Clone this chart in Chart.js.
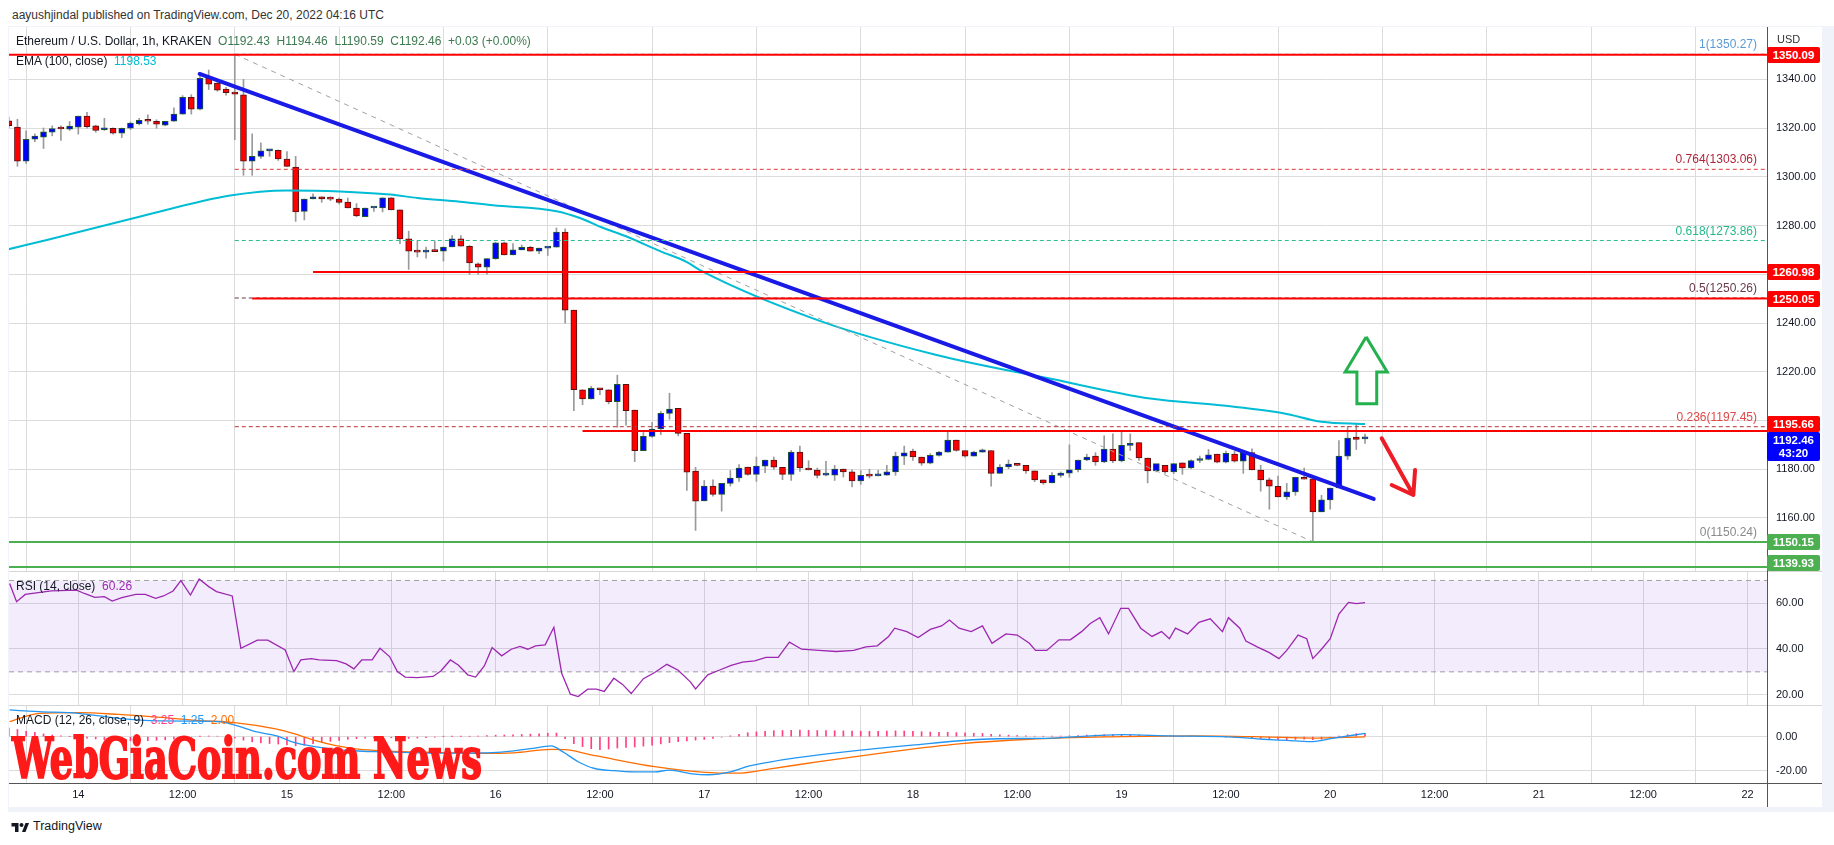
<!DOCTYPE html>
<html lang="en">
<head>
<meta charset="utf-8">
<title>Ethereum / U.S. Dollar, 1h, KRAKEN</title>
<script src="https://cdn.jsdelivr.net/npm/chart.js"></script>
<style>
  html, body { margin:0; padding:0; background:#fff; }
  body { position:relative; width:1834px; height:845px; overflow:hidden; font-family:'Liberation Sans', Arial, sans-serif; color:#131722; }
  .abs { position:absolute; white-space:nowrap; }
  canvas { position:absolute; }
  .legend { position:absolute; white-space:nowrap; font-size:12px; line-height:14px; color:#131722; }
  .pbox { position:absolute; left:1767px; width:53px; color:#fff; font-weight:bold; font-size:11.5px; line-height:16px; height:16px; text-align:center; border-radius:2px; }
  .fib { position:absolute; white-space:nowrap; font-size:12px; line-height:14px; }
</style>
</head>
<body>
<div class="abs" style="left:8px;top:26px;width:1826px;height:786px;background:#f0f3fa;"></div>
<div class="abs" style="left:9px;top:27px;width:1813px;height:780px;background:#fff;"></div>
<div class="abs" style="left:12px;top:7px;font-size:12px;line-height:16px;color:#333;">aayushjindal published on TradingView.com, Dec 20, 2022 04:16 UTC</div>

<canvas id="cMain" width="1813" height="545" style="left:9px;top:27px;"></canvas>
<canvas id="cRsi" width="1813" height="133" style="left:9px;top:572px;"></canvas>
<canvas id="cMacd" width="1813" height="102" style="left:9px;top:705px;"></canvas>

<div class="abs" style="left:9px;top:571px;width:1813px;height:1px;background:#d6d6d6;"></div>
<div class="abs" style="left:9px;top:705px;width:1813px;height:1px;background:#d6d6d6;"></div>
<div class="abs" style="left:9px;top:783px;width:1813px;height:1px;background:#555;"></div>
<div class="abs" style="left:1767px;top:27px;width:1px;height:780px;background:#555;"></div>

<div class="abs" style="left:1777px;top:33px;font-size:11px;color:#333;">USD</div>

<div class="abs" style="left:11px;top:820px;">
  <svg width="19" height="13" viewBox="0 0 36 26"><path d="M14 22H7V11H0V4h14v18z" fill="#131722"/><circle cx="20" cy="8" r="4" fill="#131722"/><path d="M28 22h-7l7-18h7l-7 18z" fill="#131722"/></svg>
</div>
<div class="abs" style="left:33px;top:819px;font-size:12.5px;line-height:15px;color:#131722;">TradingView</div>

<script>
// ---------------- DATA ----------------
// Hours are counted from Dec 14 00:00 UTC; first candle = Dec 13 16:00, one candle per hour.
const firstHour = -8;
const opens = [
  1323.0,1320.4,1306.4,1315.4,1316.3,1318.3,1319.8,1319.5,1320.4,1324.9,
  1320.9,1319.3,1319.9,1317.9,1319.9,1321.7,1323.2,1322.8,1321.2,1322.8,
  1325.7,1332.6,1327.7,1340.4,1338.4,1336.0,1334.8,1333.6,1306.4,1308.4,
  1310.6,1310.9,1307.3,1304.0,1285.8,1290.9,1291.8,1291.0,1290.8,1289.6,
  1287.2,1283.6,1287.2,1287.2,1291.4,1286.4,1274.5,1269.5,1269.1,1269.5,
  1269.5,1271.2,1274.5,1271.5,1264.3,1262.9,1266.4,1272.9,1267.9,1270.0,
  1271.1,1269.5,1270.7,1271.1,1277.3,1245.3,1212.6,1208.8,1213.2,1212.6,
  1207.7,1214.8,1204.3,1187.6,1193.5,1196.5,1202.9,1205.0,1194.7,1179.2,
  1167.0,1173.1,1169.7,1174.2,1176.4,1180.9,1177.9,1181.3,1183.8,1180.8,
  1177.9,1187.0,1180.5,1179.7,1177.6,1177.6,1180.1,1178.9,1175.2,1177.5,
  1177.3,1177.6,1178.9,1185.4,1187.4,1185.0,1182.5,1185.7,1187.0,1192.0,
  1187.7,1185.4,1187.0,1187.7,1178.3,1180.9,1182.1,1181.6,1179.3,1175.6,
  1174.4,1177.5,1178.4,1179.8,1183.8,1185.4,1183.0,1188.3,1183.4,1189.8,
  1190.9,1184.6,1179.3,1181.6,1178.9,1182.6,1180.5,1183.6,1184.0,1186.2,
  1182.9,1186.2,1183.3,1186.8,1179.7,1175.6,1173.0,1168.6,1170.7,1176.7,
  1176.1,1162.5,1167.4,1172.3,1185.4,1193.2,1192.43
];
const highs = [
  1324.5,1323.6,1318.9,1317.6,1320.0,1320.9,1320.9,1322.7,1324.9,1326.4,
  1321.2,1324.0,1320.1,1320.0,1322.5,1324.0,1325.4,1323.4,1322.8,1328.3,
  1333.3,1333.7,1342.2,1343.8,1338.6,1336.7,1350.27,1340.0,1317.6,1313.9,
  1311.0,1311.0,1310.3,1308.4,1290.9,1293.0,1291.8,1291.8,1291.3,1291.3,
  1289.0,1287.2,1287.5,1291.4,1291.4,1286.4,1277.7,1273.6,1271.2,1273.6,
  1271.2,1275.9,1275.9,1271.8,1264.7,1266.4,1273.2,1273.2,1272.6,1272.0,
  1271.5,1270.7,1271.1,1279.0,1278.6,1245.3,1212.6,1214.0,1213.2,1212.6,
  1218.6,1214.8,1204.3,1195.1,1199.2,1203.7,1211.2,1205.0,1194.7,1180.8,
  1175.4,1175.7,1174.2,1179.5,1181.9,1180.9,1185.0,1183.8,1185.0,1180.8,
  1187.7,1189.5,1183.5,1180.5,1183.2,1181.6,1180.1,1179.8,1179.5,1180.0,
  1179.5,1181.6,1187.0,1189.5,1188.3,1185.0,1186.4,1187.3,1195.2,1192.0,
  1187.7,1187.4,1188.3,1187.7,1181.9,1183.8,1182.1,1181.6,1179.3,1175.6,
  1178.6,1178.9,1190.0,1183.8,1186.2,1186.8,1193.7,1194.5,1195.2,1194.5,
  1190.9,1184.6,1181.4,1181.6,1182.3,1182.6,1183.9,1185.4,1188.1,1186.2,
  1187.4,1187.4,1187.7,1188.4,1181.6,1176.4,1177.2,1174.2,1176.7,1180.5,
  1176.1,1169.3,1172.3,1191.8,1197.6,1198.9,1194.46
];
const lows = [
  1320.0,1304.3,1305.5,1314.4,1311.6,1316.8,1314.9,1319.0,1317.5,1319.9,
  1318.3,1319.0,1317.5,1316.1,1319.4,1321.3,1321.6,1319.9,1320.9,1322.7,
  1325.7,1325.7,1327.4,1335.8,1335.1,1333.5,1315.2,1300.6,1300.6,1307.5,
  1308.4,1306.7,1304.3,1281.7,1282.3,1290.9,1289.5,1290.2,1288.9,1287.2,
  1283.6,1283.6,1285.8,1285.6,1286.4,1272.6,1262.0,1267.1,1266.6,1269.3,
  1265.4,1271.2,1271.5,1259.9,1260.0,1260.0,1266.1,1267.9,1267.9,1270.0,
  1269.5,1268.4,1267.7,1271.1,1239.9,1204.0,1206.5,1208.8,1210.6,1206.8,
  1197.2,1198.1,1183.1,1187.6,1193.1,1194.2,1200.5,1193.7,1171.3,1154.9,
  1167.0,1168.9,1162.8,1173.1,1175.0,1177.5,1175.0,1178.6,1179.9,1175.7,
  1175.4,1179.1,1179.7,1176.4,1177.3,1175.4,1176.8,1172.7,1173.8,1176.4,
  1177.3,1177.6,1177.5,1181.9,1183.6,1181.6,1182.2,1185.4,1187.0,1187.4,
  1184.9,1185.4,1187.0,1173.0,1178.3,1180.2,1181.4,1178.3,1174.9,1173.8,
  1174.4,1176.7,1176.7,1178.9,1183.5,1181.6,1182.7,1182.7,1183.0,1187.7,
  1183.6,1174.4,1178.9,1178.3,1178.2,1177.9,1180.2,1182.7,1183.8,1182.6,
  1182.6,1182.9,1178.3,1179.7,1171.0,1163.6,1168.6,1167.6,1169.3,1175.9,
  1150.24,1162.5,1163.6,1172.3,1184.0,1188.1,1190.59
];
const closes = [
  1321.0,1306.4,1315.4,1316.7,1318.4,1319.8,1319.6,1320.8,1324.9,1320.6,
  1319.0,1319.9,1317.9,1319.9,1322.0,1323.2,1322.8,1321.6,1322.8,1325.7,
  1332.6,1327.7,1340.4,1338.0,1335.5,1334.5,1333.9,1306.4,1308.4,1310.6,
  1310.9,1307.3,1304.3,1285.6,1290.9,1291.8,1290.9,1290.8,1289.5,1287.2,
  1283.9,1287.2,1287.5,1291.4,1286.4,1274.5,1269.5,1269.1,1269.5,1269.3,
  1271.2,1274.5,1271.5,1264.7,1262.9,1266.4,1272.9,1267.9,1270.0,1271.1,
  1269.5,1270.7,1271.1,1277.3,1245.3,1212.6,1208.8,1213.2,1212.6,1207.7,
  1214.8,1204.0,1187.6,1193.5,1196.5,1202.9,1204.7,1194.7,1178.8,1166.9,
  1173.1,1169.7,1174.2,1176.4,1180.5,1177.9,1181.3,1183.8,1180.8,1177.9,
  1187.0,1180.5,1179.7,1177.5,1177.7,1180.1,1178.9,1175.2,1177.5,1177.2,
  1177.6,1178.9,1185.4,1186.7,1185.0,1182.5,1185.7,1187.0,1192.0,1187.7,
  1185.4,1187.0,1188.0,1178.3,1180.9,1182.1,1181.6,1179.3,1175.6,1174.4,
  1177.5,1178.4,1179.8,1183.8,1185.0,1183.0,1188.3,1183.4,1189.8,1190.3,
  1184.6,1179.3,1182.3,1178.9,1182.3,1180.5,1183.6,1184.0,1185.9,1182.9,
  1186.5,1183.3,1187.0,1179.7,1175.6,1173.0,1168.6,1170.7,1176.7,1175.9,
  1162.5,1167.4,1172.3,1185.4,1192.8,1192.2,1192.46
];

// EMA(100) read at points along the curve
const emaHours  = [-8, -3.5, 7.25, 17.45, 24, 30.1, 35.9, 39, 43.9, 47.7, 55, 57.7, 60.4, 63, 66.9, 70, 71.5, 85.2, 98.6, 112, 123.3, 132, 138.6, 143, 148];
const emaValues = [1270.3, 1274.2, 1283.8, 1292.3, 1294.4, 1294.0, 1292.7, 1291.3, 1289.8, 1288.3, 1285.9, 1283.1, 1279.0, 1275.6, 1269.5, 1265.0, 1261.7, 1241.0, 1227.0, 1217.0, 1209.0, 1206.0, 1203.0, 1199.5, 1198.53];

// RSI(14) vertices
const rsiHours  = [-7.9,-7.1,-6.1,-3.1,-0.2,0.7,1.9,3,3.9,5,6.6,7.7,8.9,9.8,10.9,11.8,12.9,13.9,15,15.9,17.7,18.7,20.6,21.8,23.8,24.8,25.6,26.8,27.7,29.7,30.8,31.7,32.6,33.8,34.7,35.8,36.7,37.6,39,40.8,41.7,42.8,43.7,44.8,45.7,46.7,47.6,48.7,49.8,50.8,51.7,52.6,53.7,54.7,55.6,56.6,57.5,58.6,59.6,60.5,61.6,62.6,63.6,65,66.3,67.7,69,70.4,71,72.4,73.7,75.1,76.4,77.8,79.1,80.5,81.8,83.2,85.2,87.2,89.2,90.6,91.9,93.2,93.9,95.3,96.6,98,99.3,100.2,101.3,102.7,104,105.1,106.7,108,109.4,110.1,111.4,112.8,114.1,115.4,116.4,117.5,118.5,119.9,120.8,122.2,123.5,124.6,125.5,126.2,127.6,128.9,130.2,131.6,132.3,133.6,134.3,135.6,137,138.1,139,140.3,141.3,142,143,144,145,146.1,147,148];
const rsiValues = [68.7,60.7,63.9,65.4,65.8,64.3,62.6,62.9,61,62.5,63.9,63.9,62.2,63.2,65.4,69.9,63.6,70.6,67.3,65.1,63.2,40.3,43.9,43.9,39.6,30.1,35.2,35.8,35.2,34.9,33.5,31.3,35.2,35.2,40.3,36.7,30.1,27.7,27.5,28,30.4,35.2,33,28.7,27.7,32.6,40.6,37,39.9,41.1,39.9,41.4,41.8,49.5,29.4,20.2,19.2,22.4,22.4,21.4,27.2,24.5,20.5,27,29.7,33.3,30.7,25.6,22.5,28.7,30.7,32.8,34.3,34.8,36.3,36.3,43,39.9,39.4,38.9,39.4,40.9,41.4,45.5,49.1,47.6,45,48.6,50.1,52.7,49.1,47.6,50.1,42.5,46.6,46.1,42.5,39.4,39.4,44,44,47.6,51.2,53.7,46.6,57.8,57.8,49.1,45.5,47.6,44.5,49.1,46.6,51.7,53.2,47.6,53.7,49.1,43.5,40.9,38.4,35.8,39.4,46.1,44.5,35.8,39.9,44.5,55.3,60.4,59.9,60.26];
const rsiBand = [70, 30];

// MACD(12,26,9)
const macdHours  = [-7.9,-4.5,0,4.6,9.1,13.6,16.3,18.2,20.4,22.7,24.9,27.2,29.5,31.7,34,36.3,38.5,42,46,47.6,49.8,52,54.4,55.7,57.5,59.3,61.6,64,66.3,68,70.4,72.5,75,77.1,79.5,82.5,87.9,95.9,104,112,120.1,125.5,132.3,136.3,139,141.7,144.4,148];
const macdValues = [15.6,14.6,13.6,10.7,9.2,9.1,8.8,6.4,2.9,0.6,-3.5,-5.8,-7.4,-8.2,-8.7,-9.0,-9.3,-9.6,-9.5,-9.3,-8.4,-7.0,-5.4,-8.7,-14.6,-18.4,-19.8,-20.5,-20.5,-19.5,-21.5,-22.2,-20.5,-17.2,-14.8,-12.4,-9.0,-4.9,-1.5,-0.8,1.2,0.5,-0.1,-1.5,-2.2,-2.9,-0.8,1.9];
const signalHours  = [-7.9,-4.5,0,4.6,9.1,13.6,18.2,22.7,24.9,27.2,29.5,31.7,34,38,42,46,50,54.4,56,58.6,61.6,66.3,71.7,75.8,79.8,85.2,93.2,101.3,109.4,118.8,128.2,136.3,141.7,148];
const signalValues = [8.8,13.6,14.0,13.0,11.4,9.5,8.1,4.6,1.7,-2.2,-5.1,-7.0,-8.0,-8.8,-9.3,-9.7,-9.4,-7.4,-7.5,-10.1,-13.2,-17.5,-20.6,-21.3,-18.6,-14.5,-9.0,-4.2,-1.5,-0.1,0.5,-0.1,-0.8,-0.1];
const histValues = [
  5.0,4.2,3.2,2.5,1.6,1.0,0.5,0.1,-0.4,-0.8,
  -1.3,-1.8,-2.1,-2.3,-2.4,-2.4,-2.3,-2.1,-1.8,-1.4,
  -0.9,-0.4,0.1,0.4,0.3,-0.2,-0.8,-2.0,-3.0,-3.6,
  -4.0,-4.3,-4.8,-5.3,-5.0,-4.0,-3.3,-2.7,-2.1,-1.5,
  -1.2,-0.9,-0.7,-0.4,-0.6,-0.9,-1.0,-0.8,-0.5,-0.2,
  0.1,0.2,0.1,0.2,0.4,0.6,0.9,1.0,1.1,1.3,
  1.5,1.7,2.0,2.1,-1.1,-4.0,-5.8,-7.0,-7.6,-7.2,
  -6.6,-6.2,-6.0,-5.5,-4.9,-4.2,-3.5,-2.9,-2.4,-2.0,
  -1.6,-1.0,-0.3,0.5,1.4,2.3,2.8,3.2,3.5,3.6,
  3.7,3.8,3.7,3.6,3.6,3.5,3.4,3.3,3.2,3.1,
  3.2,3.3,3.4,3.3,3.1,2.9,2.7,2.6,2.6,2.4,
  2.2,2.0,1.9,1.4,1.1,0.9,0.7,0.5,0.3,0.2,
  0.3,0.4,0.5,0.7,0.9,1.0,1.2,1.2,1.3,1.2,
  1.0,0.7,0.5,0.3,0.2,0.1,0.1,0.2,0.2,0.0,
  -0.2,-0.3,-0.3,-0.7,-1.1,-1.5,-1.8,-1.9,-1.6,-1.4,
  -1.8,-1.5,-0.9,0.2,1.2,1.8,2.0
];
const macdLegend = ['3.25', '1.25', '2.00'];

// Fibonacci retracement (high 1350.27 -> low 1150.24)
const fibRatios = ['1', '0.764', '0.618', '0.5', '0.236', '0'];
const fibPrices = [1350.27, 1303.06, 1273.86, 1250.26, 1197.45, 1150.24];
const fibColors = ['#6f93b8', '#e03a3a', '#2bbf93', '#5e3b44', '#b83232', '#8a8a8a'];
const fibTextColors = ['#5b9bd5', '#b0243a', '#26b88a', '#6b3a4a', '#e04848', '#8a8a8a'];
const fibStartHour = 18;
const fibDiagHours = [18, 142];
const fibDiagPrices = [1350.27, 1150.24];

// Horizontal support / resistance lines
const levelPrices = [1350.09, 1260.98, 1250.05, 1195.66, 1150.15, 1139.93];
const levelStartHours = [-8, 27, 20, 58, -8, -8];
const levelColors = ['#ff0000', '#ff0000', '#ff0000', '#ff0000', '#4caf50', '#4caf50'];

// Descending trend line
const trendHours = [13.96, 149.0];
const trendPrices = [1342.2, 1167.8];

// Drawn arrows (hour, price)
const arrowUpHours  = [148.13, 150.56, 149.35, 149.35, 147.07, 147.07, 145.72, 148.13];
const arrowUpPrices = [1234.3, 1219.9, 1219.9, 1206.9, 1206.9, 1219.9, 1219.9, 1234.3];
const arrowDownHours  = [149.92, 153.56, 151.07, 153.56, 153.76];
const arrowDownPrices = [1192.69, 1169.42, 1173.52, 1169.42, 1179.68];

// Axes
const xTickHours = [0,12,24,36,48,60,72,84,96,108,120,132,144,156,168,180,192];
const xTickLabels = ['14','12:00','15','12:00','16','12:00','17','12:00','18','12:00','19','12:00','20','12:00','21','12:00','22'];
const mainTicks = [1160,1180,1200,1220,1240,1260,1280,1300,1320,1340];
const hiddenMainTicks = [1200, 1260];
const rsiTicks = [20, 40, 60];
const macdTicks = [-20, 0];
const countdown = '43:20';

// ---------------- LAYOUT CONSTANTS ----------------
const X_MIN = -7.971, X_MAX = 194.24;
const MAIN_MIN = 1137.83, MAIN_MAX = 1361.46;
const RSI_MIN = 15.49, RSI_MAX = 73.70;
const MACD_MIN = -27.0, MACD_MAX = 18.48;
const GRID = '#dcdcdc';
const UP = '#0000ff', DOWN = '#ff0000', UP_BORDER = '#1e5a2a', DOWN_BORDER = '#5a1010';

Chart.defaults.font.family = "'Liberation Sans', Arial, sans-serif";
Chart.defaults.font.size = 11;
Chart.defaults.color = '#131722';

const hours = opens.map((_, i) => firstHour + i);
const pts = (xs, ys) => xs.map((x, i) => ({ x: x, y: ys[i] }));

function xScale(showLabels) {
  return {
    type: 'linear', min: X_MIN, max: X_MAX, offset: false,
    grid: { color: GRID, drawTicks: false, lineWidth: 1 },
    border: { display: false },
    ticks: { display: showLabels, padding: 5, color: '#131722', font: { size: 11 }, maxRotation: 0, autoSkip: false,
             callback: (v, i) => xTickLabels[i] },
    afterBuildTicks: s => { s.ticks = xTickHours.map(v => ({ value: v })); },
    afterFit: s => { s.height = showLabels ? 24 : 0; s.paddingLeft = 0; s.paddingRight = 0; }
  };
}
function yScale(min, max, ticks, fmt) {
  return {
    type: 'linear', position: 'right', min: min, max: max,
    grid: { color: GRID, drawTicks: false, lineWidth: 1 },
    border: { display: false },
    ticks: { padding: 9, color: '#131722', font: { size: 11 }, callback: fmt },
    afterBuildTicks: s => { s.ticks = ticks.map(v => ({ value: v })); },
    afterFit: s => { s.width = 55; s.paddingTop = 0; s.paddingBottom = 0; }
  };
}
function lineDs(data, color, width, dash, order, extra) {
  return Object.assign({ type: 'line', data: data, borderColor: color, borderWidth: width, borderDash: dash || [],
    pointRadius: 0, fill: false, tension: 0, order: order }, extra || {});
}
const baseOpts = {
  responsive: false, animation: false, devicePixelRatio: 1, events: [],
  layout: { padding: 0 },
  plugins: { legend: { display: false }, tooltip: { enabled: false } }
};

// ---------------- MAIN PANE ----------------
const isUp = i => closes[i] >= opens[i];
const mainSets = [];
mainSets.push(lineDs(pts(arrowUpHours, arrowUpPrices), '#22b14c', 3, [], 0, { borderJoinStyle: 'miter' }));
mainSets.push(lineDs(pts(arrowDownHours, arrowDownPrices), '#ee1c24', 4, [], 0, { borderJoinStyle: 'round', borderCapStyle: 'round' }));
levelPrices.forEach((p, i) => {
  mainSets.push(lineDs([{ x: levelStartHours[i], y: p }, { x: X_MAX, y: p }], levelColors[i], 2, [], 1));
});
fibPrices.forEach((p, i) => {
  mainSets.push(lineDs([{ x: fibStartHour, y: p }, { x: X_MAX, y: p }], fibColors[i], 1, [4, 3], 2));
});
mainSets.push(lineDs(pts(trendHours, trendPrices), '#1a1ae6', 4, [], 3, { borderCapStyle: 'round' }));
mainSets.push(lineDs(pts(fibDiagHours, fibDiagPrices), '#a0a0a0', 1, [5, 5], 4));
mainSets.push(lineDs(pts(emaHours, emaValues), '#00bcd4', 2, [], 5, { cubicInterpolationMode: 'monotone' }));
mainSets.push({
  type: 'bar', order: 6, grouped: false, barThickness: 6, minBarLength: 2, borderWidth: 1, borderSkipped: false,
  data: hours.map((h, i) => ({ x: h, y: [opens[i], closes[i]] })),
  backgroundColor: hours.map((h, i) => isUp(i) ? UP : DOWN),
  borderColor: hours.map((h, i) => isUp(i) ? UP_BORDER : DOWN_BORDER)
});
mainSets.push({
  type: 'bar', order: 7, grouped: false, barThickness: 1, borderWidth: 0,
  data: hours.map((h, i) => ({ x: h, y: [lows[i], highs[i]] })),
  backgroundColor: '#9a9a9a'
});

const mainChart = new Chart(document.getElementById('cMain'), {
  type: 'bar',
  data: { datasets: mainSets },
  options: Object.assign({}, baseOpts, {
    scales: {
      x: xScale(false),
      y: yScale(MAIN_MIN, MAIN_MAX, mainTicks, v => hiddenMainTicks.includes(v) ? '' : v.toFixed(2))
    }
  })
});

// ---------------- RSI PANE ----------------
const rsiChart = new Chart(document.getElementById('cRsi'), {
  type: 'line',
  data: { datasets: [
    lineDs(pts(rsiHours, rsiValues), '#9c27b0', 1.3, [], 0),
    lineDs([{ x: X_MIN, y: rsiBand[0] }, { x: X_MAX, y: rsiBand[0] }], '#a0a0a0', 1, [5, 4], 1,
           { fill: '+1', backgroundColor: 'rgba(150, 80, 225, 0.11)' }),
    lineDs([{ x: X_MIN, y: rsiBand[1] }, { x: X_MAX, y: rsiBand[1] }], '#a0a0a0', 1, [5, 4], 2)
  ] },
  options: Object.assign({}, baseOpts, {
    scales: { x: xScale(false), y: yScale(RSI_MIN, RSI_MAX, rsiTicks, v => v.toFixed(2)) }
  })
});

// ---------------- MACD PANE ----------------
const macdChart = new Chart(document.getElementById('cMacd'), {
  type: 'bar',
  data: { datasets: [
    lineDs(pts(macdHours, macdValues), '#2196f3', 1.3, [], 1, { cubicInterpolationMode: 'monotone' }),
    lineDs(pts(signalHours, signalValues), '#ff6d00', 1.3, [], 2, { cubicInterpolationMode: 'monotone' }),
    { type: 'bar', order: 3, grouped: false, barThickness: 1, borderWidth: 0,
      data: hours.map((h, i) => ({ x: h, y: histValues[i] })), backgroundColor: '#ff4081' }
  ] },
  options: Object.assign({}, baseOpts, {
    scales: { x: xScale(true), y: yScale(MACD_MIN, MACD_MAX, macdTicks, v => v.toFixed(2)) }
  })
});

// ---------------- HTML TEXT OVERLAYS ----------------
function addDiv(cls, css, html) {
  const d = document.createElement('div');
  d.className = cls; d.style.cssText = css; d.innerHTML = html;
  document.body.appendChild(d); return d;
}
const MAIN_TOP = 27, MAIN_BOTTOM = 571;
const yMain = p => MAIN_TOP + mainChart.scales.y.getPixelForValue(p);
const last = closes.length - 1;

// Fibonacci labels
fibPrices.forEach((p, i) => {
  const y = yMain(p);
  addDiv('fib', `right:${1834 - 1757}px;top:${(y - 17).toFixed(1)}px;color:${fibTextColors[i]};`,
         `${fibRatios[i]}(${p.toFixed(2)})`);
});

// Price-axis boxes
const curTop = yMain(closes[last]) - 7;
levelPrices.forEach((p, i) => {
  let top = yMain(p) - 8;
  if (Math.abs(p - closes[last]) < 6) top = curTop - 16;
  top = Math.min(top, MAIN_BOTTOM - 16);
  addDiv('pbox', `top:${top.toFixed(1)}px;background:${levelColors[i]};`, p.toFixed(2));
});
addDiv('pbox', `top:${curTop.toFixed(1)}px;height:29px;line-height:13px;padding-top:2px;box-sizing:border-box;background:#0000ff;`,
       `${closes[last].toFixed(2)}<br>${countdown}`);

// Legends
const chg = closes[last] - opens[last];
const G = '#3d7a50';
addDiv('legend', 'left:16px;top:34px;',
  `Ethereum / U.S. Dollar, 1h, KRAKEN&nbsp;&nbsp;<span style="color:${G}">O${opens[last].toFixed(2)}</span>&nbsp;&nbsp;` +
  `<span style="color:${G}">H${highs[last].toFixed(2)}</span>&nbsp;&nbsp;<span style="color:${G}">L${lows[last].toFixed(2)}</span>&nbsp;&nbsp;` +
  `<span style="color:${G}">C${closes[last].toFixed(2)}</span>&nbsp;&nbsp;<span style="color:${G}">+${chg.toFixed(2)} (+${(chg / opens[last] * 100).toFixed(2)}%)</span>`);
addDiv('legend', 'left:16px;top:54px;',
  `EMA (100, close)&nbsp;&nbsp;<span style="color:#00bcd4">${emaValues[emaValues.length - 1].toFixed(2)}</span>`);
addDiv('legend', 'left:16px;top:579px;',
  `RSI (14, close)&nbsp;&nbsp;<span style="color:#9c27b0">${rsiValues[rsiValues.length - 1].toFixed(2)}</span>`);
addDiv('legend', 'left:16px;top:713px;',
  `MACD (12, 26, close, 9)&nbsp;&nbsp;<span style="color:#ff4081">${macdLegend[0]}</span>&nbsp;&nbsp;` +
  `<span style="color:#2196f3">${macdLegend[1]}</span>&nbsp;&nbsp;<span style="color:#ff6d00">${macdLegend[2]}</span>`);

// Watermark
const wm = addDiv('abs', "left:12px;top:730px;font-family:'DejaVu Serif Condensed','DejaVu Serif',serif;font-weight:bold;" +
  "font-size:56px;line-height:56px;color:#ff1a1a;-webkit-text-stroke:2px #ff1a1a;transform-origin:0 0;", 'WebGiaCoin.com News');
const wmW = wm.getBoundingClientRect().width;
wm.style.transform = `scaleX(${(470 / wmW).toFixed(4)})`;
</script>
</body>
</html>
